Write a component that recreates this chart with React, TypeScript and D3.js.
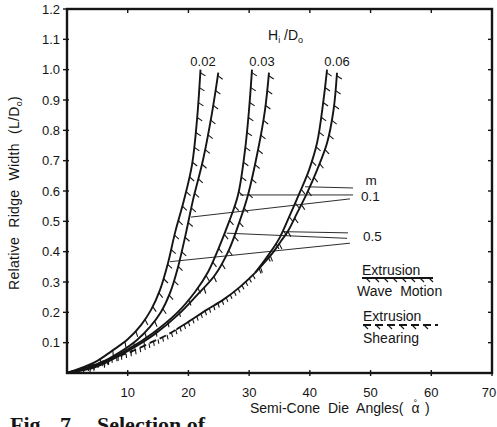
import React, { useEffect, useRef } from "react";
import * as d3 from "d3";

type Pt = [number, number];

// ---- axis values ----
const xTickValues = [10, 20, 30, 40, 50, 60, 70];
const yTickValues = [0.1, 0.2, 0.3, 0.4, 0.5, 0.6, 0.7, 0.8, 0.9, 1.0, 1.1, 1.2];

// ---- curves: [semi-cone die angle (deg), relative ridge width L/D0] ----
const hd002Left: Pt[] = [[0, 0], [4.61, 0.036], [7.41, 0.073], [10.05, 0.112], [12.19, 0.158], [13.84, 0.208], [15.32, 0.274], [16.64, 0.363], [17.79, 0.462], [19.27, 0.57], [20.59, 0.686], [21.41, 0.834], [21.99, 1.0]];
const hd002Right: Pt[] = [[0, 0], [5.44, 0.033], [8.73, 0.069], [11.53, 0.109], [13.67, 0.152], [15.48, 0.201], [16.97, 0.264], [18.28, 0.349], [19.6, 0.462], [20.75, 0.57], [22.4, 0.702], [23.88, 0.857], [24.92, 0.99]];
const hd003Left: Pt[] = [[0, 0], [4.61, 0.023], [9.88, 0.076], [14.17, 0.132], [18.12, 0.198], [21.08, 0.267], [23.23, 0.333], [24.87, 0.406], [26.68, 0.498], [28.17, 0.587], [29.32, 0.735], [29.98, 0.867], [30.47, 1.0]];
const hd003Right: Pt[] = [[0, 0], [4.78, 0.02], [10.05, 0.073], [14.5, 0.129], [18.45, 0.195], [21.41, 0.257], [24.38, 0.323], [26.68, 0.406], [28.5, 0.504], [29.81, 0.587], [31.46, 0.735], [32.61, 0.867], [33.27, 0.99]];
const hd006Shared: Pt[] = [[0, 0], [3.79, 0.023], [7.08, 0.046], [10.38, 0.069], [13.67, 0.099], [16.42, 0.125], [19.72, 0.165], [23.01, 0.208], [25.7, 0.241], [28.5, 0.284], [30.97, 0.33]];
const hd006LeftUpper: Pt[] = [[30.97, 0.33], [32.45, 0.369], [33.77, 0.406], [35.08, 0.448], [36.73, 0.521], [38.38, 0.597], [39.86, 0.669], [41.18, 0.758], [42.25, 0.9], [42.83, 1.0]];
const hd006RightUpper: Pt[] = [[30.97, 0.33], [32.61, 0.366], [34.1, 0.402], [35.25, 0.435], [36.4, 0.468], [37.89, 0.527], [39.53, 0.593], [41.18, 0.669], [42.83, 0.758], [43.9, 0.867], [44.47, 0.99]];

// ---- friction factor (m) indicator links ----
const m01Links: [Pt, Pt][] = [
  [[39.2, 0.614], [47.11, 0.61]],
  [[28.5, 0.587], [47.11, 0.587]],
  [[20.43, 0.514], [46.61, 0.574]],
];
const m05Links: [Pt, Pt][] = [
  [[35.63, 0.466], [46.29, 0.462]],
  [[26.3, 0.461], [46.12, 0.444]],
  [[16.97, 0.367], [46.61, 0.428]],
];

const curveLabels = ["0.02", "0.03", "0.06"];
const mLabels = ["0.1", "0.5"];

export default function App() {
  const ref = useRef<SVGSVGElement | null>(null);

  useEffect(() => {
    const root = d3.select(ref.current);
    root.selectAll("*").remove();
    const ink = "#151515";
    const font = "'Liberation Sans', Arial, sans-serif";
    const serif = "'Liberation Serif', 'Times New Roman', serif";
    const x = d3.scaleLinear().domain([0, 70]).range([67, 492]);
    const y = d3.scaleLinear().domain([0, 1.2]).range([373, 9]);
    const line = d3
      .line<Pt>()
      .x((d) => x(d[0]))
      .y((d) => y(d[1]))
      .curve(d3.curveCatmullRom.alpha(0.5));

    const splitAlpha = 18;
    const defs = root.append("defs");
    defs.append("clipPath").attr("id", "clipLow").append("rect")
      .attr("x", 0).attr("y", 0).attr("width", x(splitAlpha)).attr("height", 427);
    defs.append("clipPath").attr("id", "clipHigh").append("rect")
      .attr("x", x(splitAlpha)).attr("y", 0).attr("width", 497).attr("height", 427);

    const g = root.append("g");

    // frame
    g.append("rect")
      .attr("x", x(0)).attr("y", y(1.2))
      .attr("width", x(70) - x(0)).attr("height", y(0) - y(1.2))
      .attr("fill", "none").attr("stroke", ink).attr("stroke-width", 2.4);

    // y ticks + labels
    yTickValues.forEach((v) => {
      g.append("line").attr("x1", x(0) - 4).attr("x2", x(0) + 2)
        .attr("y1", y(v)).attr("y2", y(v)).attr("stroke", ink).attr("stroke-width", 1.4);
      g.append("line").attr("x1", x(70) - 4).attr("x2", x(70))
        .attr("y1", y(v)).attr("y2", y(v)).attr("stroke", ink).attr("stroke-width", 1.4);
      g.append("text").attr("x", x(0) - 7).attr("y", y(v)).attr("dy", "0.36em")
        .attr("text-anchor", "end").attr("font-family", font).attr("font-size", 13)
        .attr("fill", ink).text(v.toFixed(1));
    });
    // x ticks + labels
    xTickValues.forEach((v) => {
      g.append("line").attr("x1", x(v)).attr("x2", x(v))
        .attr("y1", y(0) - 3).attr("y2", y(0) + 3).attr("stroke", ink).attr("stroke-width", 1.4);
      g.append("line").attr("x1", x(v)).attr("x2", x(v))
        .attr("y1", y(1.2)).attr("y2", y(1.2) + 4).attr("stroke", ink).attr("stroke-width", 1.4);
      g.append("text").attr("x", Math.min(x(v), 489)).attr("y", 397)
        .attr("text-anchor", "middle").attr("font-family", font).attr("font-size", 13)
        .attr("fill", ink).text(String(v));
    });

    // axis titles
    const yt = g.append("text").attr("transform", "translate(19,193) rotate(-90)")
      .attr("text-anchor", "middle").attr("font-family", font).attr("font-size", 14)
      .attr("fill", ink).attr("word-spacing", 5).attr("letter-spacing", 0.3);
    yt.append("tspan").text("Relative Ridge Width (L/D");
    yt.append("tspan").attr("font-size", 9).attr("dy", 3).text("o");
    yt.append("tspan").attr("dy", -3).text(")");

    const xt = g.append("text").attr("x", 250).attr("y", 413)
      .attr("font-family", font).attr("font-size", 14).attr("fill", ink)
      .attr("word-spacing", 4);
    xt.append("tspan").text("Semi-Cone Die Angles( ");
    xt.append("tspan").text("α");
    xt.append("tspan").attr("font-size", 9).attr("dx", -6).attr("dy", -7).text("°");
    xt.append("tspan").attr("dy", 7).text(" )");

    // caption (cut by page bottom)
    const cap = g.append("g").attr("font-family", serif).attr("font-weight", "bold")
      .attr("font-size", 22).attr("fill", ink);
    cap.append("text").attr("x", 10).attr("y", 432).text("Fig.");
    cap.append("text").attr("x", 60).attr("y", 432).text("7.");
    cap.append("text").attr("x", 97).attr("y", 432).text("Selection of");

    // H/D title
    const hd = g.append("text").attr("x", 268).attr("y", 40).attr("font-family", font)
      .attr("font-size", 14).attr("fill", ink);
    hd.append("tspan").text("H");
    hd.append("tspan").attr("font-size", 9).attr("dy", 3).text("i");
    hd.append("tspan").attr("dy", -3).text(" /D");
    hd.append("tspan").attr("font-size", 9).attr("dy", 3).text("o");

    const labelX = [203, 262, 337];
    curveLabels.forEach((t, i) => {
      g.append("text").attr("x", labelX[i]).attr("y", 66).attr("text-anchor", "middle")
        .attr("font-family", font).attr("font-size", 13).attr("fill", ink).text(t);
    });

    // m links
    [...m01Links, ...m05Links].forEach(([a, b]) => {
      g.append("line").attr("x1", x(a[0])).attr("y1", y(a[1]))
        .attr("x2", x(b[0])).attr("y2", y(b[1]))
        .attr("stroke", ink).attr("stroke-width", 0.9);
    });
    g.append("text").attr("x", 371).attr("y", 185).attr("text-anchor", "middle")
      .attr("font-family", font).attr("font-size", 13.5).attr("fill", ink).text("m");
    g.append("text").attr("x", 361).attr("y", 201)
      .attr("font-family", font).attr("font-size", 13.5).attr("fill", ink).text(mLabels[0]);
    g.append("text").attr("x", 363).attr("y", 241)
      .attr("font-family", font).attr("font-size", 13.5).attr("fill", ink).text(mLabels[1]);

    // curves
    const curveG = g.append("g").attr("fill", "none").attr("stroke", ink)
      .attr("stroke-width", 1.9).attr("stroke-linejoin", "round");

    const hatch = (
      node: SVGPathElement,
      spacing: number,
      len: number,
      theta: number,
      minX: number,
      width = 1.1
    ) => {
      const total = node.getTotalLength();
      for (let s = total - 3; s > 2; s -= spacing) {
        const p = node.getPointAtLength(s);
        if (p.x < minX) break;
        const a = node.getPointAtLength(Math.max(0, s - 1));
        const b = node.getPointAtLength(Math.min(total, s + 1));
        let tx = b.x - a.x, ty = b.y - a.y;
        const n = Math.hypot(tx, ty) || 1;
        tx /= n; ty /= n;
        const nx = -ty, ny = tx;
        const c = Math.cos(theta), sn = Math.sin(theta);
        const dx = c * nx - sn * tx, dy = c * ny - sn * ty;
        curveG.append("line").attr("x1", p.x).attr("y1", p.y)
          .attr("x2", p.x + len * dx).attr("y2", p.y + len * dy)
          .attr("stroke-width", width);
      }
    };

    const upperCurves: { data: Pt[]; minAlpha: number }[] = [
      { data: hd002Left, minAlpha: 4 },
      { data: hd002Right, minAlpha: 4 },
      { data: hd003Left, minAlpha: 3 },
      { data: hd003Right, minAlpha: 21 },
      { data: hd006LeftUpper, minAlpha: 31 },
      { data: hd006RightUpper, minAlpha: 31 },
    ];
    upperCurves.forEach((c) => {
      const p = curveG.append("path").attr("d", line(c.data) as string);
      hatch(p.node() as SVGPathElement, 15, 6, 0.5, x(c.minAlpha));
    });

    // shared shearing part of H/D = 0.06 (dashed near origin)
    curveG.append("path").attr("d", line(hd006Shared) as string).attr("clip-path", "url(#clipHigh)");
    const low = curveG.append("path").attr("d", line(hd006Shared) as string)
      .attr("stroke-dasharray", "7 4").attr("clip-path", "url(#clipLow)");
    hatch(low.node() as SVGPathElement, 5, 4.5, 0.25, x(2));

    // legend
    const lg = g.append("g").attr("font-family", font).attr("font-size", 14).attr("fill", ink);
    lg.append("text").attr("x", 362).attr("y", 275).text("Extrusion");
    lg.append("text").attr("x", 357).attr("y", 296).attr("word-spacing", 4).text("Wave Motion");
    lg.append("text").attr("x", 363).attr("y", 321).text("Extrusion");
    lg.append("text").attr("x", 363).attr("y", 343).text("Shearing");
    const legLines = g.append("g").attr("stroke", ink).attr("fill", "none");
    legLines.append("line").attr("x1", 362).attr("x2", 433).attr("y1", 278).attr("y2", 278)
      .attr("stroke-width", 1.9);
    d3.range(366, 433, 9).forEach((px) => {
      legLines.append("line").attr("x1", px).attr("y1", 278).attr("x2", px + 4).attr("y2", 282)
        .attr("stroke-width", 1.1);
    });
    legLines.append("line").attr("x1", 363).attr("x2", 438).attr("y1", 325).attr("y2", 325)
      .attr("stroke-width", 1.9).attr("stroke-dasharray", "8 4");
    d3.range(364, 436, 12).forEach((px) => {
      legLines.append("line").attr("x1", px).attr("y1", 325).attr("x2", px + 4).attr("y2", 329)
        .attr("stroke-width", 1.1);
    });
  }, []);

  return (
    <svg
      ref={ref}
      width={497}
      height={427}
      style={{ position: "absolute", left: 0, top: 0, background: "#fff" }}
    />
  );
}
